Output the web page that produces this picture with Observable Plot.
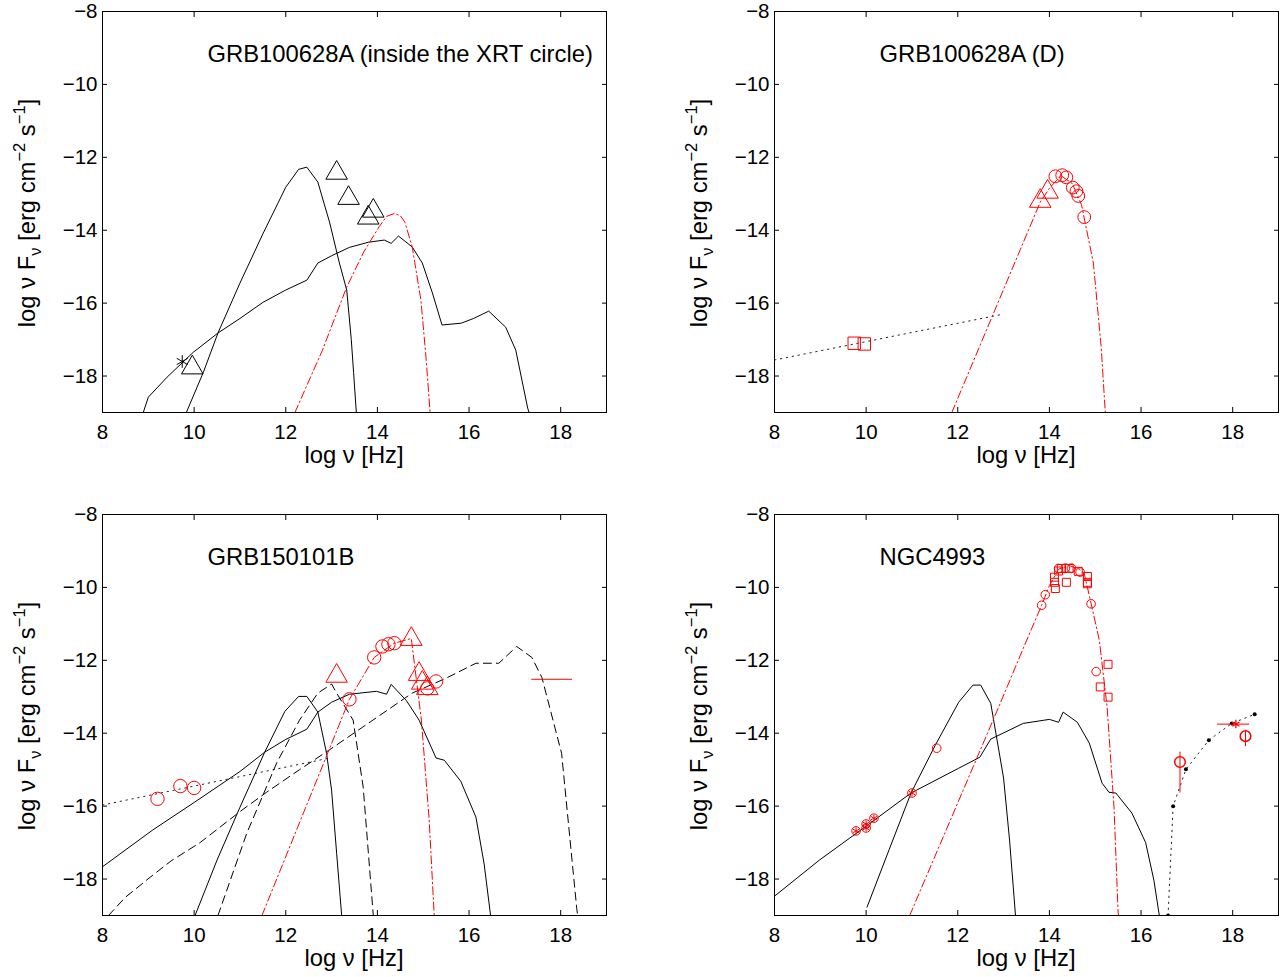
<!DOCTYPE html>
<html><head><meta charset="utf-8">
<script src="https://cdn.jsdelivr.net/npm/d3@7"></script>
<script src="https://cdn.jsdelivr.net/npm/@observablehq/plot@0.6"></script>
<style>
body{margin:0;background:#fff;overflow:hidden}
#wrap{position:relative;width:1282px;height:977px;background:#fff}
#wrap svg{position:absolute;overflow:visible}
</style>
</head><body><div id="wrap"></div>
<script>
// ---- axes ----
const xTicks = [8, 10, 12, 14, 16, 18];
const yTicks = [-8, -10, -12, -14, -16, -18];
const xDomain = [8, 19];
const yDomain = [-19, -8];
const titles = ["GRB100628A (inside the XRT circle)", "GRB100628A (D)", "GRB150101B", "NGC4993"];

// ---- panel 1: GRB100628A (inside the XRT circle) ----
const aSolid1 = [[9.83,-19],[10.2,-17.9],[10.52,-16.82],[11.0,-15.45],[11.5,-14.1],[12.0,-12.82],[12.28,-12.33],[12.46,-12.27],[12.7,-12.68],[12.96,-13.8],[13.17,-14.9],[13.33,-15.64],[13.43,-17.0],[13.48,-17.9],[13.54,-19]];
const aSolid2 = [[8.89,-19],[9.0,-18.58],[9.41,-18.03],[9.98,-17.35],[10.52,-16.82],[11.0,-16.42],[11.5,-15.98],[12.0,-15.64],[12.46,-15.37],[12.7,-14.9],[13.0,-14.7],[13.39,-14.47],[13.8,-14.33],[14.15,-14.27],[14.3,-14.36],[14.46,-14.16],[14.76,-14.46],[14.98,-14.9],[15.2,-15.72],[15.41,-16.6],[15.83,-16.55],[16.1,-16.42],[16.43,-16.22],[16.8,-16.66],[17.02,-17.29],[17.28,-18.88],[17.31,-19]];
const aModel = [[12.2,-19],[12.8,-17.29],[13.33,-15.56],[13.7,-14.6],[14.04,-13.9],[14.2,-13.62],[14.37,-13.54],[14.5,-13.6],[14.6,-13.78],[14.76,-14.46],[14.95,-15.92],[15.06,-17.48],[15.15,-19]];
const aTriangles = [[13.11,-12.43],[13.37,-13.12],[13.91,-13.47],[13.8,-13.66],[9.96,-17.77]];
const aStars = [[9.74,-17.6]];

// ---- panel 2: GRB100628A (D) ----
const bDotted = [[8,-17.56],[13.0,-16.3]];
const bModel = [[11.87,-19],[13.8,-13.23],[14.0,-12.85],[14.25,-12.5],[14.5,-12.72],[14.7,-13.3],[14.96,-14.9],[15.13,-17.2],[15.22,-19]];
const bSquares = [[9.74,-17.1],[9.96,-17.12]];
const bTriangles = [[13.8,-13.2],[13.96,-12.95]];
const bCircles = [[14.13,-12.52],[14.28,-12.49],[14.37,-12.55],[14.51,-12.83],[14.59,-12.93],[14.63,-13.06],[14.76,-13.64]];

// ---- panel 3: GRB150101B ----
const cDotted = [[8,-15.97],[12.96,-14.68]];
const cSolid1 = [[10.02,-19],[10.5,-17.48],[11.0,-16.03],[11.54,-14.52],[11.98,-13.4],[12.28,-12.99],[12.46,-12.99],[12.7,-13.42],[12.89,-14.55],[13.0,-15.56],[13.11,-17.29],[13.22,-19]];
const cSolid2 = [[7.96,-17.7],[9.09,-16.66],[10.0,-15.9],[11.0,-15.05],[11.54,-14.52],[12.0,-14.17],[12.46,-13.89],[12.7,-13.42],[13.0,-13.15],[13.39,-12.93],[13.98,-12.85],[14.2,-12.93],[14.3,-12.66],[14.63,-13.1],[14.91,-13.64],[15.28,-14.68],[15.46,-14.74],[15.82,-15.32],[16.15,-16.3],[16.33,-17.59],[16.47,-19]];
const cDashed1 = [[8.13,-19],[8.5,-18.5],[9.04,-17.95],[9.5,-17.5],[10.13,-17.0],[11.0,-16.15],[11.58,-15.62],[12.3,-15.0],[12.96,-14.45],[13.67,-13.84],[14.76,-12.9],[15.5,-12.49],[16.15,-12.08],[16.65,-12.08],[17.04,-11.62],[17.37,-11.92],[17.59,-12.47],[18.02,-14.55],[18.35,-18.8],[18.37,-19]];
const cDashed2 = [[10.52,-19],[11.15,-16.74],[11.8,-14.82],[12.3,-13.64],[12.7,-12.9],[13.0,-12.65],[13.1,-12.88],[13.47,-13.64],[13.69,-15.48],[13.91,-19]];
const cModel = [[11.48,-19],[13.39,-13.07],[13.93,-11.92],[14.37,-11.53],[14.74,-11.4],[14.96,-13.64],[15.13,-16.38],[15.24,-19]];
const cCircles = [[9.2,-15.8],[9.7,-15.45],[10.0,-15.5],[13.39,-13.07],[13.93,-11.92],[14.11,-11.62],[14.24,-11.56],[14.37,-11.53],[15.09,-12.77],[15.28,-12.58]];
const cTriangles = [[13.11,-12.43],[14.74,-11.42],[14.91,-12.38],[14.98,-12.62],[15.09,-12.77]];
const cBand = [{x1: 17.37, x2: 18.26, y: -12.52}];

// ---- panel 4: NGC4993 ----
const dSolid1 = [[10.02,-18.77],[10.5,-17.2],[10.98,-15.64],[11.5,-14.35],[12.02,-13.15],[12.33,-12.68],[12.5,-12.68],[12.72,-13.18],[13.0,-15.23],[13.13,-16.93],[13.26,-19]];
const dSolid2 = [[8,-18.47],[8.98,-17.48],[10.0,-16.55],[10.98,-15.64],[12.02,-14.96],[12.48,-14.66],[12.72,-14.16],[13.43,-13.73],[14.0,-13.62],[14.2,-13.7],[14.3,-13.42],[14.61,-13.7],[14.87,-14.27],[15.15,-15.37],[15.3,-15.62],[15.45,-15.64],[15.8,-16.19],[16.1,-17.0],[16.28,-18.03],[16.39,-18.93],[16.4,-19]];
const dModel = [[10.95,-19],[12.91,-13.23],[13.43,-11.67],[13.83,-10.49],[14.0,-9.95],[14.2,-9.5],[14.43,-9.4],[14.65,-9.5],[14.76,-9.62],[14.91,-10.44],[15.09,-11.45],[15.26,-13.29],[15.41,-16.03],[15.5,-18.93],[15.51,-19]];
const dXray = [[16.59,-19.0],[16.7,-16.0],[16.98,-14.99],[17.48,-14.19],[17.98,-13.73],[18.48,-13.48]];
const dRadio = [[9.78,-16.68],[10.0,-16.49],[10.0,-16.6],[10.17,-16.33],[11.0,-15.64]];
const dCircles = [[11.54,-14.41],[13.83,-10.49],[13.91,-10.2],[14.2,-9.48],[14.35,-9.47],[14.48,-9.47],[14.67,-9.58],[14.91,-10.45],[15.02,-12.31]];
const dSquares = [[14.11,-9.86],[14.11,-9.72],[14.13,-10.03],[14.2,-9.55],[14.26,-9.48],[14.37,-9.86],[14.43,-9.48],[14.63,-9.56],[14.83,-9.7],[14.83,-9.86],[14.83,-9.9],[15.28,-12.11],[15.11,-12.73],[15.28,-13.01]];
const dXCircles = [{x: 16.85, y: -14.79, lo: -15.64, hi: -14.52}, {x: 18.28, y: -14.08, lo: -14.37, hi: -13.92}];
const dXStar = [{x: 18.07, y: -13.75, lo: 17.67, hi: 18.37}];

// ---- helpers ----
const RED = "#ff0000";
const FONT = "'Liberation Sans', Arial, Helvetica, sans-serif";
const LABEL_SIZE = 23.8;
const px = d => d[0], py = d => d[1];
const fmt = d => (d < 0 ? "\u2212" : "") + Math.abs(d);
const solid = (data, o = {}) => Plot.line(data, {x: px, y: py, stroke: "black", strokeWidth: 1, clip: true, ...o});
const dashdot = data => solid(data, {stroke: RED, strokeDasharray: "8,3,1.5,3"});
const dashed = data => solid(data, {strokeDasharray: "8,5"});
const dotted = data => solid(data, {stroke: "#222", strokeDasharray: "1.4,4.6"});
const sym = (data, symbol, r, color, o = {}) => Plot.dot(data, {x: px, y: py, symbol, r, stroke: color, fill: "none", strokeWidth: 1, ...o});

const wrap = document.getElementById("wrap");

function panel(i, left, top, width, marks) {
  const svg = Plot.plot({
    width, height: 503,
    marginLeft: 102, marginRight: width - 606, marginTop: 11, marginBottom: 91,
    x: {domain: xDomain},
    y: {domain: yDomain},
    style: {fontFamily: FONT, fontSize: "20.5px", color: "black", background: "transparent", overflow: "visible"},
    marks: [
      ...marks,
      Plot.frame({stroke: "black", strokeWidth: 1}),
      Plot.axisX({ticks: xTicks, tickSize: -5, tickPadding: 17, label: null, tickFormat: fmt}),
      Plot.axisX({anchor: "top", ticks: xTicks, tickSize: -5, label: null, tickFormat: () => ""}),
      Plot.axisY({ticks: yTicks, tickSize: -5, tickPadding: 10, label: null, tickFormat: fmt}),
      Plot.axisY({anchor: "right", ticks: yTicks, tickSize: -5, label: null, tickFormat: () => ""}),
      Plot.text([titles[i]], {frameAnchor: "top-left", dx: 105, dy: 43, textAnchor: "start", lineAnchor: "middle", fontSize: LABEL_SIZE, text: d => d})
    ]
  });
  svg.style.left = left + "px";
  svg.style.top = top + "px";
  const s = d3.select(svg);
  // x label
  s.append("text").attr("x", 354).attr("y", 463).attr("text-anchor", "middle")
    .attr("font-size", LABEL_SIZE).attr("fill", "black").text("log ν [Hz]");
  // y label with sub/superscripts
  const t = s.append("text").attr("transform", "translate(35,213) rotate(-90)")
    .attr("text-anchor", "middle").attr("font-size", LABEL_SIZE).attr("fill", "black");
  t.append("tspan").text("log ν F");
  t.append("tspan").attr("dy", 6).attr("font-size", 16.5).text("ν");
  t.append("tspan").attr("dy", -6).text(" [erg cm");
  t.append("tspan").attr("dy", -10).attr("font-size", 16.5).text("−2");
  t.append("tspan").attr("dy", 10).text(" s");
  t.append("tspan").attr("dy", -10).attr("font-size", 16.5).text("−1");
  t.append("tspan").attr("dy", 10).text("]");
  wrap.appendChild(svg);
}

panel(0, 0, 0, 672, [
  solid(aSolid1), solid(aSolid2), dashdot(aModel),
  sym(aTriangles, "triangle", 8, "black"),
  sym(aStars, "asterisk", 6, "black")
]);

panel(1, 672, 0, 610, [
  dotted(bDotted), dashdot(bModel),
  sym(bSquares, "square", 7, RED),
  sym(bTriangles, "triangle", 8, RED),
  sym(bCircles, "circle", 6.4, RED)
]);

panel(2, 0, 503, 672, [
  dotted(cDotted), solid(cSolid1), solid(cSolid2), dashed(cDashed1), dashed(cDashed2), dashdot(cModel),
  sym(cCircles, "circle", 6.7, RED),
  sym(cTriangles, "triangle", 8, RED),
  Plot.ruleY(cBand, {y: "y", x1: "x1", x2: "x2", stroke: RED, strokeWidth: 1})
]);

panel(3, 672, 503, 610, [
  solid(dSolid1), solid(dSolid2), dashdot(dModel), dotted(dXray),
  Plot.dot(dXray, {x: px, y: py, r: 2, fill: "black", stroke: "none", clip: true}),
  sym(dRadio, "circle", 4.3, RED), sym(dRadio, "asterisk", 3.4, RED),
  sym(dCircles, "circle", 4.3, RED),
  sym(dSquares, "square", 4.5, RED),
  Plot.ruleX(dXCircles, {x: "x", y1: "lo", y2: "hi", stroke: RED, strokeWidth: 1}),
  Plot.dot(dXCircles, {x: "x", y: "y", r: 5.3, stroke: RED, fill: "none"}),
  Plot.ruleY(dXStar, {y: "y", x1: "lo", x2: "hi", stroke: RED, strokeWidth: 1}),
  Plot.dot(dXStar, {x: "x", y: "y", symbol: "asterisk", r: 4, stroke: RED, strokeWidth: 1.3})
]);
</script>
</body></html>
